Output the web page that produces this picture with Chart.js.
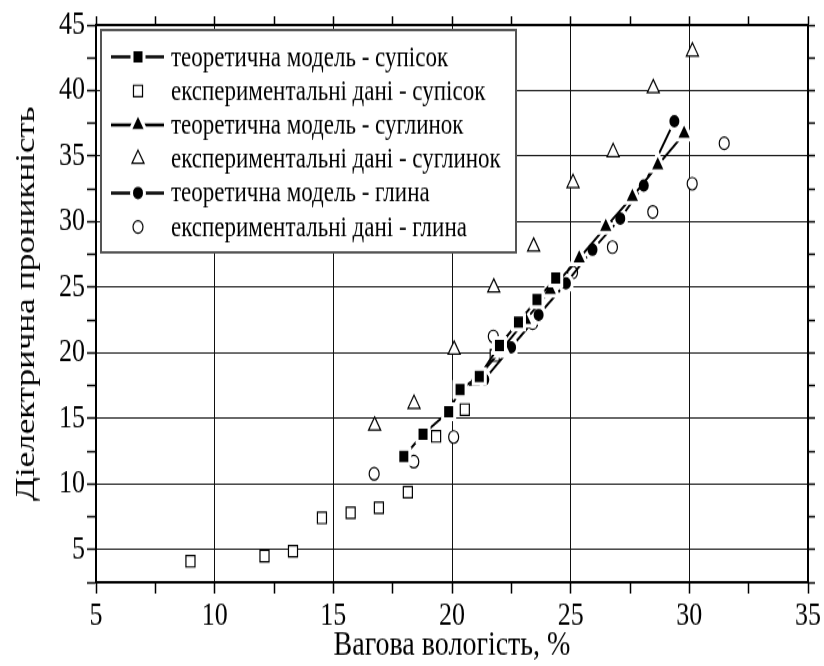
<!DOCTYPE html>
<html lang="uk">
<head>
  <meta charset="UTF-8">
  <title>Діелектрична проникність</title>
  <script src="https://cdn.jsdelivr.net/npm/chart.js"></script>
  <style>
    html, body { margin: 0; padding: 0; background: #fff; overflow: hidden; }
    #wrap { width: 824px; height: 666px; }
    /* the original figure is stretched vertically, so is ours */
    #chart { transform: scaleY(1.2495); transform-origin: 0 0; }
  </style>
</head>
<body>
  <div id="wrap"><canvas id="chart" width="824" height="533"></canvas></div>

  <script>
    // теоретична модель - супісок
    const sandModelX = [17.97, 18.78, 19.86, 20.34, 21.15, 22.0, 22.8, 23.58, 24.37];
    const sandModelY = [12.1, 13.8, 15.5, 17.2, 18.2, 20.56, 22.35, 24.05, 25.7];
    // експериментальні дані - супісок
    const sandExpX = [8.98, 12.1, 13.3, 14.52, 15.73, 16.92, 18.14, 19.33, 20.54, 21.8];
    const sandExpY = [4.1, 4.5, 4.87, 7.41, 7.8, 8.18, 9.37, 13.63, 15.67, 19.8];
    // теоретична модель - суглинок
    const loamModelX = [20.94, 22.07, 23.1, 24.14, 25.36, 26.48, 27.6, 28.67, 29.78];
    const loamModelY = [17.8, 20.2, 22.5, 24.8, 27.2, 29.6, 31.9, 34.3, 36.7];
    // експериментальні дані - суглинок
    const loamExpX = [16.74, 18.4, 20.09, 21.76, 23.44, 25.1, 26.79, 28.48, 30.13];
    const loamExpY = [14.45, 16.1, 20.24, 24.98, 28.1, 32.94, 35.3, 40.18, 42.97];
    // теоретична модель - глина
    const clayModelX = [21.36, 22.49, 23.65, 24.8, 25.92, 27.09, 28.08, 29.37];
    const clayModelY = [17.95, 20.41, 22.9, 25.3, 27.86, 30.24, 32.76, 37.66];
    // експериментальні дані - глина
    const clayExpX = [16.72, 18.39, 20.07, 21.74, 23.4, 25.08, 26.76, 28.46, 30.12, 31.47];
    const clayExpY = [10.77, 11.7, 13.58, 21.25, 22.27, 26.13, 28.06, 30.75, 32.9, 35.98];

    const legendLabels = [
      'теоретична модель - супісок',
      'експериментальні дані - супісок',
      'теоретична модель - суглинок',
      'експериментальні дані - суглинок',
      'теоретична модель - глина',
      'експериментальні дані - глина'
    ];

    const xMin = 5, xMax = 35, yMin = 2.5, yMax = 45, step = 2.5;
    const FONT = '"Liberation Serif", "Times New Roman", serif';

    const pts = (xs, ys) => xs.map((x, i) => ({ x: x, y: ys[i] }));

    function model(label, xs, ys, style, r) {
      return {
        label: label, data: pts(xs, ys), showLine: true,
        borderColor: '#000', borderWidth: 2,
        pointStyle: style, pointRadius: r,
        pointBackgroundColor: '#000', pointBorderColor: '#fff', pointBorderWidth: 3
      };
    }
    function exper(label, xs, ys, style, r) {
      return {
        label: label, data: pts(xs, ys), showLine: false,
        pointStyle: style, pointRadius: r,
        pointBackgroundColor: '#fff', pointBorderColor: '#000', pointBorderWidth: 1.2
      };
    }

    // маркери для легенди
    function marker(ctx, style, x, y, r, filled) {
      ctx.beginPath();
      if (style === 'rect') {
        const s = Math.SQRT1_2 * r;
        ctx.rect(x - s, y - s, 2 * s, 2 * s);
      } else if (style === 'triangle') {
        for (let k = 0; k < 3; k++) {
          const a = k * 2 * Math.PI / 3;
          const px = x + Math.sin(a) * r, py = y - Math.cos(a) * r;
          k === 0 ? ctx.moveTo(px, py) : ctx.lineTo(px, py);
        }
        ctx.closePath();
      } else {
        ctx.arc(x, y, r, 0, 2 * Math.PI);
      }
      ctx.fillStyle = filled ? '#000' : '#fff';
      ctx.strokeStyle = filled ? '#fff' : '#000';
      ctx.lineWidth = filled ? 3 : 1.2;
      ctx.fill();
      ctx.stroke();
    }

    const legendBox = {
      id: 'legendBox',
      afterDraw(chart) {
        const ctx = chart.ctx;
        const left = 101, top = 24, right = 516, bottom = 202;
        ctx.save();
        ctx.fillStyle = '#fff';
        ctx.fillRect(left, top, right - left, bottom - top);
        ctx.strokeStyle = '#555';
        ctx.lineWidth = 2;
        ctx.strokeRect(left, top, right - left, bottom - top);
        const styles = ['rect', 'rect', 'triangle', 'triangle', 'circle', 'circle'];
        const radii = [8.5, 6.4, 9.5, 7, 6.5, 5];
        legendLabels.forEach((txt, i) => {
          const y = 45.6 + i * 27.2;
          const filled = i % 2 === 0;
          if (filled) {
            ctx.strokeStyle = '#000';
            ctx.lineWidth = 2.5;
            ctx.beginPath();
            ctx.moveTo(111, y); ctx.lineTo(164, y);
            ctx.stroke();
          }
          marker(ctx, styles[i], 138, y, radii[i], filled);
          ctx.fillStyle = '#000';
          ctx.font = '23px ' + FONT;
          ctx.textBaseline = 'middle';
          ctx.textAlign = 'left';
          ctx.fillText(txt, 171, y + 1);
        });
        ctx.restore();
      }
    };

    const isMajor = v => Math.abs(v % 5) < 1e-9;
    const gridColor = c => (c.tick && isMajor(c.tick.value)) ? '#111' : 'rgba(0,0,0,0)';

    new Chart(document.getElementById('chart'), {
      type: 'scatter',
      data: {
        datasets: [
          model(legendLabels[0], sandModelX, sandModelY, 'rect', 8.5),
          model(legendLabels[2], loamModelX, loamModelY, 'triangle', 9.5),
          model(legendLabels[4], clayModelX, clayModelY, 'circle', 6.5),
          exper(legendLabels[1], sandExpX, sandExpY, 'rect', 6.4),
          exper(legendLabels[3], loamExpX, loamExpY, 'triangle', 7),
          exper(legendLabels[5], clayExpX, clayExpY, 'circle', 5)
        ]
      },
      options: {
        responsive: false,
        animation: false,
        devicePixelRatio: 1,
        layout: { padding: 0 },
        plugins: {
          legend: { display: false },
          tooltip: { enabled: false }
        },
        scales: {
          x: {
            type: 'linear', position: 'bottom', min: xMin, max: xMax,
            afterFit: s => { s.height = 67; },
            border: { color: '#000', width: 2 },
            grid: { color: gridColor, lineWidth: 1, tickColor: '#000', tickLength: 9, tickWidth: 1.5 },
            ticks: {
              stepSize: step, autoSkip: false, maxRotation: 0, padding: 3,
              color: '#000', font: { family: FONT, size: 26 },
              callback: v => isMajor(v) ? v : ''
            },
            title: {
              display: true, text: 'Вагова вологість, %', color: '#000',
              font: { family: FONT, size: 28 }, padding: { top: 0, bottom: 0 }
            }
          },
          x2: {
            type: 'linear', position: 'top', min: xMin, max: xMax,
            afterFit: s => { s.height = 20; },
            border: { color: '#000', width: 2 },
            grid: { drawOnChartArea: false, tickColor: '#000', tickLength: 7, tickWidth: 1.5 },
            ticks: { stepSize: step, autoSkip: false, display: false }
          },
          y: {
            type: 'linear', position: 'left', min: yMin, max: yMax,
            afterFit: s => { s.width = 96; },
            border: { color: '#000', width: 2 },
            grid: { color: gridColor, lineWidth: 1, tickColor: '#000', tickLength: 9, tickWidth: 1.5 },
            ticks: {
              stepSize: step, autoSkip: false, padding: 2,
              color: '#000', font: { family: FONT, size: 26 },
              callback: v => isMajor(v) ? v : ''
            },
            title: {
              display: true, text: 'Діелектрична проникність', color: '#000',
              font: { family: FONT, size: 28 }, padding: { top: 10, bottom: 0 }
            }
          },
          y2: {
            type: 'linear', position: 'right', min: yMin, max: yMax,
            afterFit: s => { s.width = 15; },
            border: { color: '#000', width: 2 },
            grid: { drawOnChartArea: false, tickColor: '#000', tickLength: 7, tickWidth: 1.5 },
            ticks: { stepSize: step, autoSkip: false, display: false }
          }
        }
      },
      plugins: [legendBox]
    });
  </script>
</body>
</html>
